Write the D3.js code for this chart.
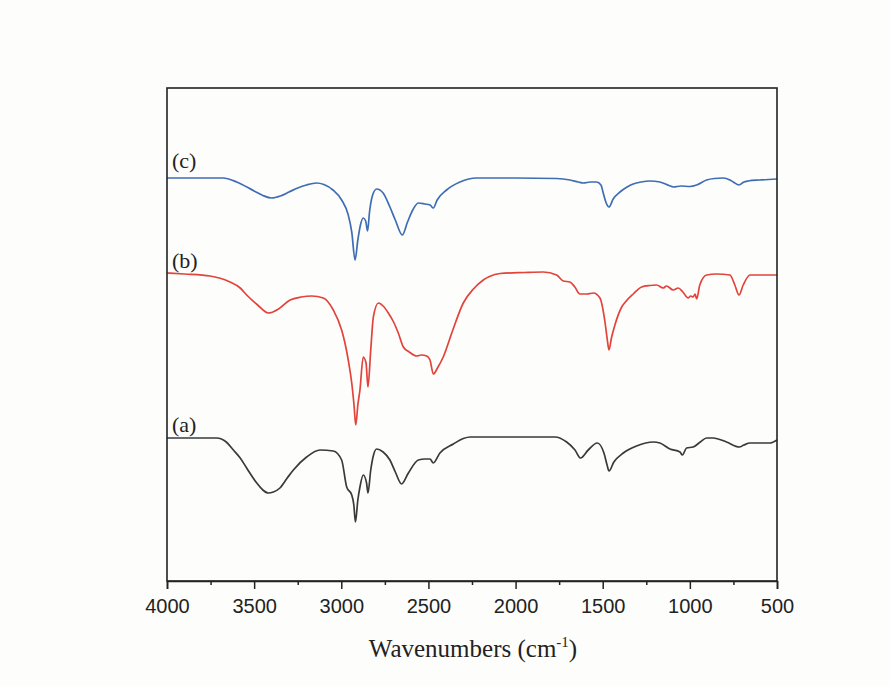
<!DOCTYPE html>
<html>
<head>
<meta charset="utf-8">
<script src="https://cdn.jsdelivr.net/npm/d3@7/dist/d3.min.js"></script>
<style>
html,body{margin:0;padding:0;background:#fdfdfb;}
svg{display:block;}
</style>
</head>
<body>
<svg id="chart" width="890" height="686"></svg>
<script>
// Wavenumber (cm-1) and transmittance (a.u., offset traces)
const seriesNames = ["(a)", "(b)", "(c)"];
const xTicks = [4000, 3500, 3000, 2500, 2000, 1500, 1000, 500];
const minorTicks = [3750, 3250, 2750, 2250, 1750, 1250, 750];

const waveC = [4000,3800,3679,3600,3500,3450,3400,3350,3300,3250,3200,3142,3100,3048,2998,2960,2940,2921,2905,2890,2874,2860,2849,2838,2820,2797,2760,2721,2690,2650,2620,2590,2558,2520,2491,2472,2450,2396,2319,2223,2000,1764,1688,1640,1611,1570,1535,1510,1497,1480,1464,1440,1401,1360,1325,1280,1229,1172,1120,1095,1050,1000,961,904,860,808,770,751,718,690,665,600,500];
const transC = [403,403,403,399,390,385.5,383,385,389,393,396,398,396.5,391,381,366,349,321,341,356,363,360,350,369,386,392,388,374,361,346,359,371,378,377,376,373,381,391,399,403,403,402.5,401,399,398,399,399,396,388,378,374,382,389,394,397,399,400,399,395.5,394,395,394.5,396,401,402.5,403,401,399,396,399,400,401,402];

const waveB = [4000,3900,3753,3700,3639,3580,3543,3480,3419,3400,3360,3294,3230,3170,3103,3046,2998,2979,2960,2940,2927,2917,2905,2893,2874,2858,2847,2831,2816,2787,2760,2730,2700,2673,2644,2610,2568,2540,2510,2491,2472,2445,2415,2360,2300,2242,2185,2150,2089,1950,1841,1764,1726,1688,1660,1631,1590,1554,1516,1487,1475,1464,1450,1430,1391,1370,1325,1277,1230,1191,1153,1134,1095,1067,1040,1010,995,981,970,961,943,904,847,770,742,718,694,655,600,500];
const transB = [308,307,305,303,299,293,286,276,268,268.5,272,281,284,285,283,271,251,238,221,198,176,156,176,191,224,218,194,231,264,278,275,268,259,248,234,229,225,226,225,221,207,214,224,251,278,292,301,304.5,307.5,308.5,309,306,300,299,294,287,287,288,283,259,243,231,243,256,274,279,287,294,295.5,296,293,295,291,293,289,283,285,284,287,282,296,306,307,306,296,286,296,306,306,306];

const waveA = [4000,3800,3715,3660,3619,3580,3543,3485,3450,3419,3390,3352,3310,3275,3199,3122,3046,2998,2969,2940,2928,2919,2905,2893,2874,2855,2847,2831,2815,2797,2760,2721,2690,2654,2615,2558,2520,2491,2472,2434,2357,2300,2260,2223,2000,1774,1707,1659,1627,1583,1531,1493,1475,1464,1436,1382,1306,1210,1172,1114,1057,1043,1019,981,940,904,866,790,716,690,655,541,500];
const transA = [143,143,143,139,131,123,113,98,91,88,89,93,103,111,124,131,130,121,94,86,76,59,81,94,106,98,88,111,126,132,129,121,109,97,108,121,122,122,118,128,137,142.5,144,144,144,144,139,131,123,131,138,128,116,110,119,128,135,139,138,132,129,126,133,134,139,143,143,139,134,136,138,138,141];

const colors = ["#3a3a3a", "#e2433a", "#3f6db4"];

const svg = d3.select("#chart");
svg.append("rect").attr("width", 890).attr("height", 686).attr("fill", "#fdfdfb");

const mLeft = 167, mRight = 777, mTop = 88, mBottom = 581;
const x = d3.scaleLinear().domain([4000, 500]).range([mLeft, mRight]);
const y = d3.scaleLinear().domain([0, 493]).range([mBottom, mTop]);

const line = d3.line()
  .x(d => x(d[0]))
  .y(d => y(d[1]))
  .curve(d3.curveMonotoneX);

const data = [
  d3.zip(waveA, transA),
  d3.zip(waveB, transB),
  d3.zip(waveC, transC)
];

data.forEach((d, i) => {
  svg.append("path")
    .datum(d)
    .attr("d", line)
    .attr("fill", "none")
    .attr("stroke", colors[i])
    .attr("stroke-width", 1.7)
    .attr("stroke-linejoin", "round");
});

// series labels
const labelY = [432, 268, 168];
seriesNames.forEach((n, i) => {
  svg.append("text")
    .attr("x", 172)
    .attr("y", labelY[i])
    .attr("font-family", "'Liberation Serif', 'Times New Roman', serif")
    .attr("font-size", 22)
    .attr("fill", "#222")
    .text(n);
});

// frame
svg.append("rect")
  .attr("x", mLeft).attr("y", mTop)
  .attr("width", mRight - mLeft).attr("height", mBottom - mTop)
  .attr("fill", "none").attr("stroke", "#222").attr("stroke-width", 1.6);

// bottom axis
const axis = d3.axisBottom(x).tickValues(xTicks).tickSize(8).tickFormat(d3.format("d"));
const gx = svg.append("g").attr("transform", `translate(0,${mBottom})`).call(axis);
gx.select(".domain").attr("stroke", "#222").attr("stroke-width", 1.6);
gx.selectAll(".tick line").attr("stroke", "#222").attr("stroke-width", 1.5);
gx.selectAll(".tick text")
  .attr("y", 32).attr("dy", 0)
  .attr("font-family", "'Liberation Sans', Arial, sans-serif")
  .attr("font-size", 20)
  .attr("fill", "#222");

const gm = d3.axisBottom(x).tickValues(minorTicks).tickSize(4).tickFormat("");
const gmin = svg.append("g").attr("transform", `translate(0,${mBottom})`).call(gm);
gmin.select(".domain").remove();
gmin.selectAll(".tick line").attr("stroke", "#222").attr("stroke-width", 1.5);

// axis title
const title = svg.append("text")
  .attr("x", 473).attr("y", 657)
  .attr("text-anchor", "middle")
  .attr("font-family", "'Liberation Serif', 'Times New Roman', serif")
  .attr("font-size", 25)
  .attr("fill", "#222");
title.append("tspan").text("Wavenumbers (cm");
title.append("tspan").attr("font-size", 15).attr("dy", -10).text("-1");
title.append("tspan").attr("dy", 10).text(")");
</script>
</body>
</html>
